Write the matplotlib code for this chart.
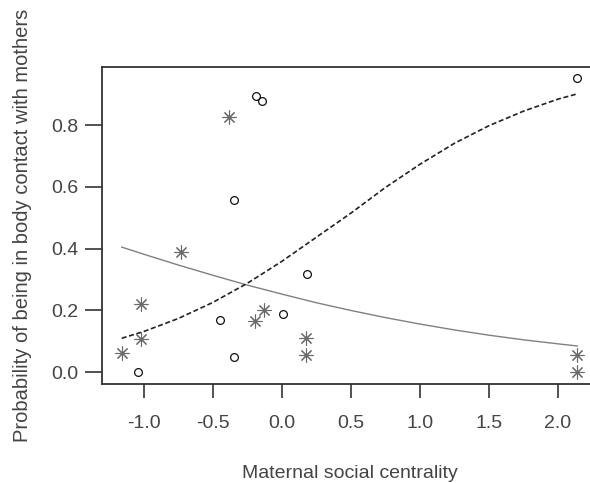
import matplotlib
matplotlib.use('Agg')
import matplotlib.pyplot as plt

plt.rcParams['font.family'] = ['Liberation Sans', 'DejaVu Sans']

# data
circle_x = [-1.04, -0.446, -0.347, -0.347, -0.186, -0.142, 0.007, 0.183, 2.139]
circle_y = [0.0, 0.168, 0.050, 0.557, 0.895, 0.878, 0.188, 0.318, 0.953]

star_x = [-1.161, -1.021, -1.021, -0.728, -0.383, -0.198, -0.133, 0.176, 0.176, 2.139, 2.139]
star_y = [0.061, 0.107, 0.220, 0.389, 0.825, 0.167, 0.202, 0.112, 0.055, 0.055, 0.0]

# fitted curves
curve_x = [-1.16, -1.0, -0.75, -0.5, -0.25, 0.0, 0.25, 0.5, 0.75, 1.0, 1.25, 1.5, 1.75, 2.0, 2.14]
solid_y = [0.405, 0.382, 0.347, 0.314, 0.282, 0.253, 0.225, 0.200, 0.177, 0.156, 0.137, 0.120, 0.105, 0.092, 0.085]
dashed_y = [0.110, 0.132, 0.174, 0.226, 0.288, 0.359, 0.437, 0.515, 0.598, 0.673, 0.741, 0.798, 0.845, 0.884, 0.901]

xticks = [-1.0, -0.5, 0.0, 0.5, 1.0, 1.5, 2.0]
yticks = [0.0, 0.2, 0.4, 0.6, 0.8]

fig = plt.figure(figsize=(5.9, 4.83), dpi=100)
ax = fig.add_axes([102 / 590, 99 / 483, 495 / 590, 317 / 483])

ax.plot(curve_x, solid_y, color='#808080', lw=1.0, zorder=2)
ax.plot(curve_x, dashed_y, color='#222222', lw=1.2, linestyle=(0, (3, 1.6)), zorder=2)

ax.plot(circle_x, circle_y, linestyle='none', marker='o', ms=5.6, mfc='none',
        mec='#111111', mew=0.9, zorder=3)
ax.plot(star_x, star_y, linestyle='none', marker=(8, 2, 0), ms=10,
        color='#6a6a6a', mew=0.8, zorder=3)

ax.set_xlim(-1.303, 2.283)
ax.set_ylim(-0.038, 0.988)
ax.set_xticks(xticks)
ax.set_xticklabels([f'{v:.1f}' for v in xticks])
ax.set_yticks(yticks)
ax.set_yticklabels([f'{v:.1f}' for v in yticks])

ax.tick_params(axis='both', labelsize=14, colors='#333333', labelcolor='#444444', width=1.2)
ax.tick_params(axis='x', length=10, pad=12)
ax.tick_params(axis='y', length=12, pad=5)

for s in ax.spines.values():
    s.set_color('#333333')
    s.set_linewidth(1.3)

ax.set_xlabel('Maternal social centrality', fontsize=14, color='#444444', labelpad=24)
ax.set_ylabel('Probability of being in body contact with mothers', fontsize=14.5,
              color='#444444', labelpad=14)

fig.savefig('out.png', dpi=100)
